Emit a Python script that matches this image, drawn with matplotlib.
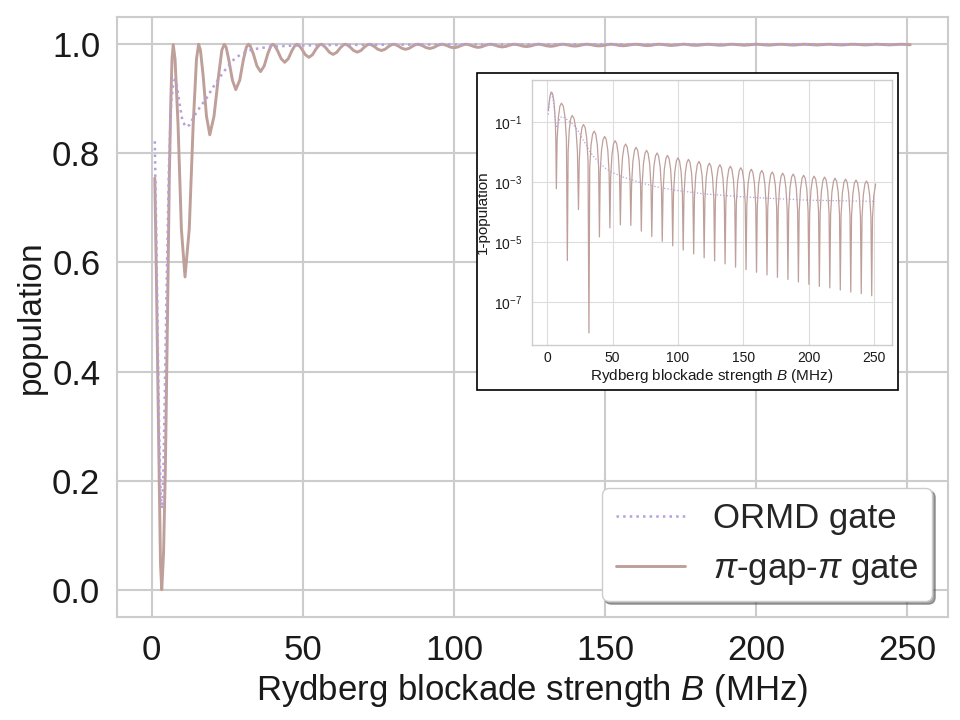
import numpy as np
import matplotlib
matplotlib.use('Agg')
import matplotlib.pyplot as plt
import seaborn as sns
from matplotlib.patches import Rectangle
from matplotlib.ticker import NullLocator

# blockade strength B (MHz) and log10(1 - population)
pgp_B = [
    1.0, 1.5, 2.0, 2.5, 2.9, 3.3, 3.9, 4.5, 5.2, 5.8, 6.3, 6.7,
    7.1, 7.7, 8.7, 9.8, 11.0, 12.4, 13.7, 14.8,
    15.5, 16.1, 17.0, 18.1, 19.2, 20.6, 22.1, 23.2,
    24.0, 24.6, 25.5, 26.7, 27.8, 29.1, 30.3, 31.3,
    32.0, 32.6, 33.6, 34.8, 36.0, 37.2, 38.4, 39.4,
    40.0, 40.6, 41.6, 42.8, 44.0, 45.2, 46.4, 47.4,
    48.0, 48.6, 49.6, 50.8, 52.0, 53.2, 54.4, 55.4,
    56.0, 56.6, 57.6, 58.8, 60.0, 61.2, 62.4, 63.4,
    64.0, 64.6, 65.6, 66.8, 68.0, 69.2, 70.4, 71.4,
    72.0, 72.6, 73.6, 74.8, 76.0, 77.2, 78.4, 79.4,
    80.0, 80.6, 81.6, 82.8, 84.0, 85.2, 86.4, 87.4,
    88.0, 88.6, 89.6, 90.8, 92.0, 93.2, 94.4, 95.4,
    96.0, 96.6, 97.6, 98.8, 100.0, 101.2, 102.4, 103.4,
    104.0, 104.6, 105.6, 106.8, 108.0, 109.2, 110.4, 111.4,
    112.0, 112.6, 113.6, 114.8, 116.0, 117.2, 118.4, 119.4,
    120.0, 120.6, 121.6, 122.8, 124.0, 125.2, 126.4, 127.4,
    128.0, 128.6, 129.6, 130.8, 132.0, 133.2, 134.4, 135.4,
    136.0, 136.6, 137.6, 138.8, 140.0, 141.2, 142.4, 143.4,
    144.0, 144.6, 145.6, 146.8, 148.0, 149.2, 150.4, 151.4,
    152.0, 152.6, 153.6, 154.8, 156.0, 157.2, 158.4, 159.4,
    160.0, 160.6, 161.6, 162.8, 164.0, 165.2, 166.4, 167.4,
    168.0, 168.6, 169.6, 170.8, 172.0, 173.2, 174.4, 175.4,
    176.0, 176.6, 177.6, 178.8, 180.0, 181.2, 182.4, 183.4,
    184.0, 184.6, 185.6, 186.8, 188.0, 189.2, 190.4, 191.4,
    192.0, 192.6, 193.6, 194.8, 196.0, 197.2, 198.4, 199.4,
    200.0, 200.6, 201.6, 202.8, 204.0, 205.2, 206.4, 207.4,
    208.0, 208.6, 209.6, 210.8, 212.0, 213.2, 214.4, 215.4,
    216.0, 216.6, 217.6, 218.8, 220.0, 221.2, 222.4, 223.4,
    224.0, 224.6, 225.6, 226.8, 228.0, 229.2, 230.4, 231.4,
    232.0, 232.6, 233.6, 234.8, 236.0, 237.2, 238.4, 239.4,
    240.0, 240.6, 241.6, 242.8, 244.0, 245.2, 246.4, 247.4,
    248.0, 248.6, 249.6, 251.0,
]
pgp_logerr = [
    -0.61, -0.38, -0.21, -0.09, -0.02, 0.00, -0.03, -0.11, -0.30, -0.61, -0.98, -1.57,
    -3.22, -1.57, -0.83, -0.47, -0.37, -0.47, -0.83, -1.57,
    -5.61, -1.98, -1.24, -0.88, -0.78, -0.88, -1.24, -1.98,
    -3.91, -2.28, -1.54, -1.18, -1.08, -1.18, -1.54, -2.28,
    -8.02, -2.50, -1.76, -1.40, -1.30, -1.40, -1.76, -2.50,
    -4.82, -2.68, -1.94, -1.58, -1.48, -1.58, -1.94, -2.68,
    -4.52, -2.82, -2.08, -1.72, -1.62, -1.72, -2.08, -2.82,
    -4.42, -2.93, -2.19, -1.83, -1.73, -1.83, -2.19, -2.93,
    -4.44, -3.04, -2.30, -1.94, -1.84, -1.94, -2.30, -3.04,
    -4.63, -3.14, -2.40, -2.04, -1.94, -2.04, -2.40, -3.14,
    -4.81, -3.23, -2.49, -2.13, -2.03, -2.13, -2.49, -3.23,
    -4.97, -3.31, -2.57, -2.21, -2.11, -2.21, -2.57, -3.31,
    -5.12, -3.39, -2.65, -2.29, -2.19, -2.29, -2.65, -3.39,
    -5.26, -3.44, -2.70, -2.34, -2.24, -2.34, -2.70, -3.44,
    -5.39, -3.51, -2.77, -2.41, -2.31, -2.41, -2.77, -3.51,
    -5.52, -3.57, -2.83, -2.47, -2.37, -2.47, -2.83, -3.57,
    -5.62, -3.62, -2.88, -2.52, -2.42, -2.52, -2.88, -3.62,
    -5.72, -3.67, -2.93, -2.57, -2.47, -2.57, -2.93, -3.67,
    -5.83, -3.72, -2.98, -2.62, -2.52, -2.62, -2.98, -3.72,
    -5.91, -3.77, -3.03, -2.67, -2.57, -2.67, -3.03, -3.77,
    -6.00, -3.81, -3.07, -2.71, -2.61, -2.71, -3.07, -3.81,
    -6.09, -3.86, -3.12, -2.76, -2.66, -2.76, -3.12, -3.86,
    -6.17, -3.90, -3.16, -2.80, -2.70, -2.80, -3.16, -3.90,
    -6.24, -3.93, -3.19, -2.83, -2.73, -2.83, -3.19, -3.93,
    -6.32, -3.97, -3.23, -2.87, -2.77, -2.87, -3.23, -3.97,
    -6.40, -4.00, -3.26, -2.90, -2.80, -2.90, -3.26, -4.00,
    -6.47, -4.03, -3.29, -2.93, -2.83, -2.93, -3.29, -4.03,
    -6.52, -4.07, -3.33, -2.97, -2.87, -2.97, -3.33, -4.07,
    -6.59, -4.10, -3.36, -3.00, -2.90, -3.00, -3.36, -4.10,
    -6.66, -4.13, -3.39, -3.03, -2.93, -3.03, -3.39, -4.13,
    -6.71, -4.16, -3.42, -3.06, -2.96, -3.06, -3.42, -4.16,
    -6.78, -4.19, -3.45, -3.06,
]

ormd_B = [1.0, 1.5, 2.0, 2.5, 3.0, 3.4, 3.8, 4.3, 5.0, 5.7, 6.4, 7.0, 7.6, 8.3,
          9.2, 10.2, 11.3, 12.5, 14.0, 16.0, 18.0, 20.0, 22.5, 25.0, 27.5, 30.0,
          33.0, 36.0, 40.0, 45.0, 50.0, 58.0, 66.0, 74.0, 85.0, 100.0, 120.0,
          150.0, 175.0, 200.0, 225.0, 251.0]
ormd_logerr = [-0.75, -0.46, -0.26, -0.14, -0.08, -0.07, -0.10, -0.19, -0.38, -0.66,
               -0.96, -1.12, -1.19, -1.12, -0.96, -0.85, -0.82, -0.83, -0.88, -0.94,
               -1.00, -1.09, -1.22, -1.38, -1.59, -1.77, -2.00, -2.17, -2.35, -2.55,
               -2.68, -2.83, -2.94, -3.05, -3.17, -3.28, -3.39, -3.49, -3.55, -3.60,
               -3.62, -3.64]

pgp_err = 10 ** np.array(pgp_logerr)
ormd_err = 10 ** np.array(ormd_logerr)
pgp_pop = 1 - pgp_err
ormd_pop = 1 - ormd_err

PGP_COLOR = '#bf9f99'
ORMD_COLOR = '#b5a0dc'
TEXT = '#1a1a1a'

sns.set_theme(style='whitegrid')
plt.rcParams['font.family'] = ['Liberation Sans', 'DejaVu Sans']
plt.rcParams['mathtext.fontset'] = 'custom'
plt.rcParams['mathtext.rm'] = 'Liberation Sans'
plt.rcParams['mathtext.it'] = 'Liberation Sans:italic'
plt.rcParams['mathtext.bf'] = 'Liberation Sans:bold'

fig = plt.figure(figsize=(9.6, 7.2), dpi=100)

# main axes
ax = fig.add_axes([0.1219, 0.1431, 0.8656, 0.8333])
ax.plot(ormd_B, ormd_pop, color=ORMD_COLOR, lw=1.8, ls=':', label='ORMD gate', zorder=3)
ax.plot(pgp_B, pgp_pop, color=PGP_COLOR, lw=2.1, label=r'$\pi$-gap-$\pi$ gate', zorder=2)
ax.set_xlabel('Rydberg blockade strength $B$ (MHz)', fontsize=25, color=TEXT)
ax.set_ylabel('population', fontsize=24, color=TEXT)
ax.tick_params(labelsize=25, length=0, pad=12, labelcolor=TEXT)
ax.grid(True, color='#cccccc', lw=1.5)
for s in ax.spines.values():
    s.set_color('#cccccc')
    s.set_linewidth(1.5)
leg = ax.legend(loc='lower right', fontsize=25, frameon=True, shadow=True, fancybox=True,
                handlelength=2.0, borderaxespad=0.45)
leg.get_frame().set_edgecolor('#cccccc')
leg.get_frame().set_alpha(1.0)

# black frame behind the inset
fig.add_artist(Rectangle((477 / 960, 1 - 390 / 720), 421 / 960, 317 / 720,
                         transform=fig.transFigure, facecolor='white',
                         edgecolor='black', lw=1.2, zorder=1))

# inset: 1 - population on log scale
ax_in = fig.add_axes([532 / 960, 1 - 345 / 720, 360 / 960, 265 / 720], zorder=2)
ax_in.plot(ormd_B, ormd_err, color=ORMD_COLOR, lw=0.9, ls=':', zorder=3)
ax_in.plot(pgp_B, pgp_err, color=PGP_COLOR, lw=0.9, zorder=2)
ax_in.set_yscale('log')
ax_in.set_yticks([1e-1, 1e-3, 1e-5, 1e-7])
ax_in.yaxis.set_minor_locator(NullLocator())
ax_in.set_xticks([0, 50, 100, 150, 200, 250])
ax_in.set_xlabel('Rydberg blockade strength $B$ (MHz)', fontsize=11, labelpad=2,
                 color=TEXT)
ax_in.set_ylabel('1-population', fontsize=11, labelpad=3, color=TEXT)
ax_in.tick_params(axis='x', labelsize=10, length=0, pad=4, labelcolor=TEXT)
ax_in.tick_params(axis='y', labelsize=10, length=0, pad=7, labelcolor=TEXT)
ax_in.grid(True, color='#dddddd', lw=0.8)
for s in ax_in.spines.values():
    s.set_color('#cccccc')
    s.set_linewidth(1.0)

fig.savefig('out.png', dpi=100)
